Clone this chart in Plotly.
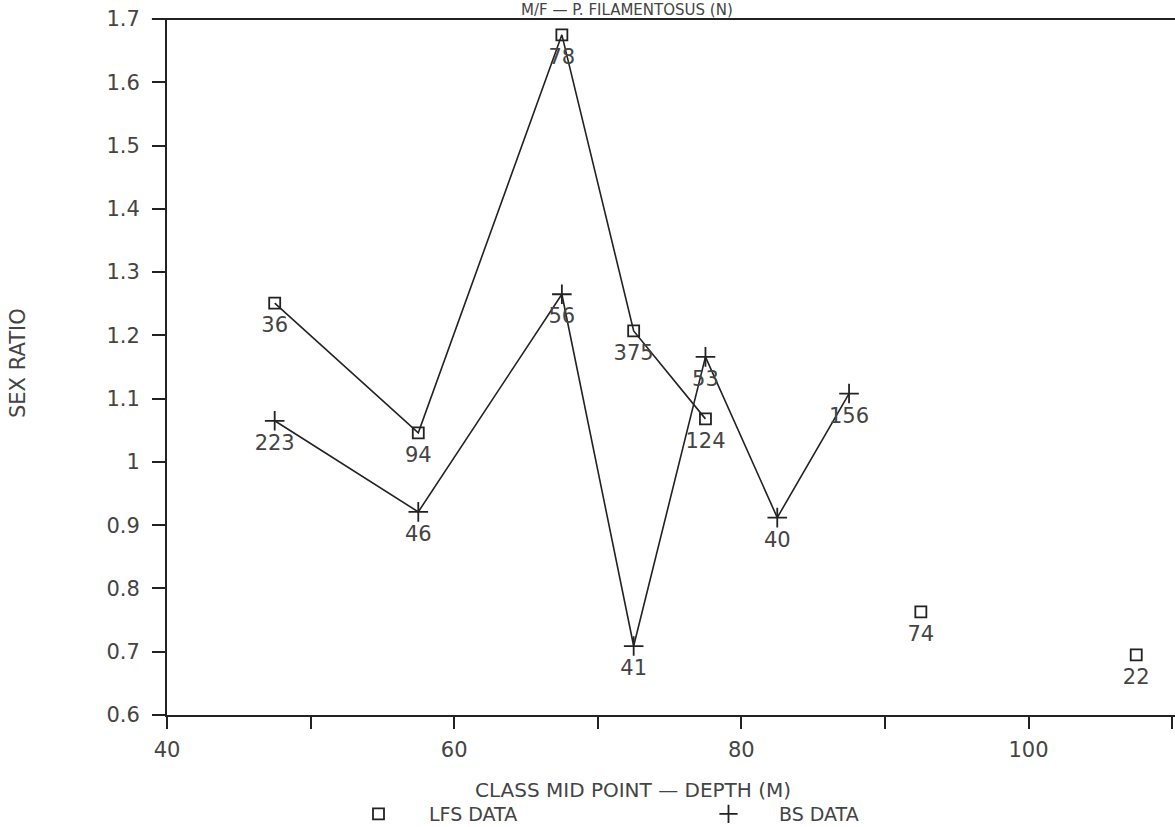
import plotly.graph_objects as go

# ---- data ----
lfs_depth = [47.5, 57.5, 67.5, 72.5, 77.5]
lfs_ratio = [1.251, 1.046, 1.675, 1.207, 1.068]
lfs_n = ["36", "94", "78", "375", "124"]

lfs_extra_depth = [92.5, 107.5]
lfs_extra_ratio = [0.763, 0.695]
lfs_extra_n = ["74", "22"]

bs_depth = [47.5, 57.5, 67.5, 72.5, 77.5, 82.5, 87.5]
bs_ratio = [1.065, 0.921, 1.265, 0.709, 1.166, 0.912, 1.108]
bs_n = ["223", "46", "56", "41", "53", "40", "156"]

y_ticks = [0.6, 0.7, 0.8, 0.9, 1.0, 1.1, 1.2, 1.3, 1.4, 1.5, 1.6, 1.7]
y_tick_text = ["0.6", "0.7", "0.8", "0.9", "1", "1.1", "1.2", "1.3", "1.4", "1.5", "1.6", "1.7"]
x_ticks = [40, 50, 60, 70, 80, 90, 100, 110]
x_tick_text = ["40", "", "60", "", "80", "", "100", ""]

FONT = "DejaVu Sans"
INK = "#222222"
TXT = "#444444"

fig = go.Figure()

label_font = dict(family=FONT, size=21, color=TXT)
SQ = dict(symbol="square-open", size=11, color=INK, line=dict(width=1.8))
PL = dict(symbol="cross-thin-open", size=14, color=INK, line=dict(width=1.8, color=INK))
GHOST = dict(size=20, color="rgba(0,0,0,0)")

# lines + markers
fig.add_trace(go.Scatter(x=lfs_depth, y=lfs_ratio, mode="lines+markers",
                         line=dict(color=INK, width=1.6), marker=SQ, showlegend=False))
fig.add_trace(go.Scatter(x=lfs_extra_depth, y=lfs_extra_ratio, mode="markers",
                         marker=SQ, showlegend=False))
fig.add_trace(go.Scatter(x=bs_depth, y=bs_ratio, mode="lines+markers",
                         line=dict(color=INK, width=1.6), marker=PL, showlegend=False))

# sample-size labels (transparent markers set the offset below each point)
for xs, ys, ts in [(lfs_depth, lfs_ratio, lfs_n),
                   (lfs_extra_depth, lfs_extra_ratio, lfs_extra_n),
                   (bs_depth, bs_ratio, bs_n)]:
    fig.add_trace(go.Scatter(x=xs, y=ys, text=ts, mode="markers+text",
                             textposition="bottom center", textfont=label_font,
                             marker=GHOST, showlegend=False, cliponaxis=False,
                             hoverinfo="skip"))

# legend entries
fig.add_trace(go.Scatter(x=[None], y=[None], mode="markers", name="LFS DATA", marker=SQ))
fig.add_trace(go.Scatter(x=[None], y=[None], mode="markers", name="BS DATA",
                         marker=dict(symbol="cross-thin-open", size=13, color=INK,
                                     line=dict(width=1.8, color=INK))))

fig.update_layout(
    width=1175, height=827,
    margin=dict(l=167, r=0, t=19, b=112, autoexpand=False),
    paper_bgcolor="white", plot_bgcolor="white",
    font=dict(family=FONT, size=18, color=TXT),
    legend=dict(orientation="h", x=(328 - 167) / 1008, xanchor="left",
                y=(715 - 814) / 696, yanchor="middle", tracegroupgap=0,
                entrywidth=244, entrywidthmode="pixels", itemwidth=91,
                font=dict(family=FONT, size=19, color=TXT), bgcolor="rgba(0,0,0,0)"),
    xaxis=dict(range=[40, 110.2], tickvals=x_ticks, ticktext=x_tick_text,
               showgrid=False, zeroline=False, showline=True, linecolor=INK, linewidth=2,
               mirror=False, ticks="outside", ticklen=12, tickwidth=1.6, tickcolor=INK,
               ticklabelstandoff=3, automargin=False,
               tickfont=dict(family=FONT, size=21, color=TXT)),
    yaxis=dict(range=[0.6, 1.7], tickvals=y_ticks, ticktext=y_tick_text,
               showgrid=False, zeroline=False, showline=True, linecolor=INK, linewidth=2,
               ticks="outside", ticklen=13, tickwidth=1.6, tickcolor=INK,
               ticklabelstandoff=8, automargin=False,
               tickfont=dict(family=FONT, size=21, color=TXT)),
    shapes=[dict(type="line", xref="paper", yref="paper", x0=-0.015, x1=1, y0=1, y1=1,
                 line=dict(color=INK, width=2))],
    annotations=[
        dict(text="SEX RATIO", xref="paper", yref="paper", x=0, y=(715 - 363) / 696,
             xanchor="center", yanchor="middle", xshift=-149, textangle=-90,
             showarrow=False, font=dict(family=FONT, size=21, color=TXT)),
        dict(text="CLASS MID POINT \u2014 DEPTH (M)", xref="paper", yref="paper",
             x=(633 - 167) / 1008, y=(715 - 790) / 696, xanchor="center", yanchor="middle",
             showarrow=False, font=dict(family=FONT, size=20, color=TXT)),
        dict(text="M/F \u2014 P. FILAMENTOSUS (N)", xref="paper", yref="paper",
             x=(627 - 167) / 1008, y=1.0, yshift=-2, xanchor="center", yanchor="bottom",
             showarrow=False, font=dict(family=FONT, size=15, color=TXT)),
    ],
)

fig.write_html("out.html")
